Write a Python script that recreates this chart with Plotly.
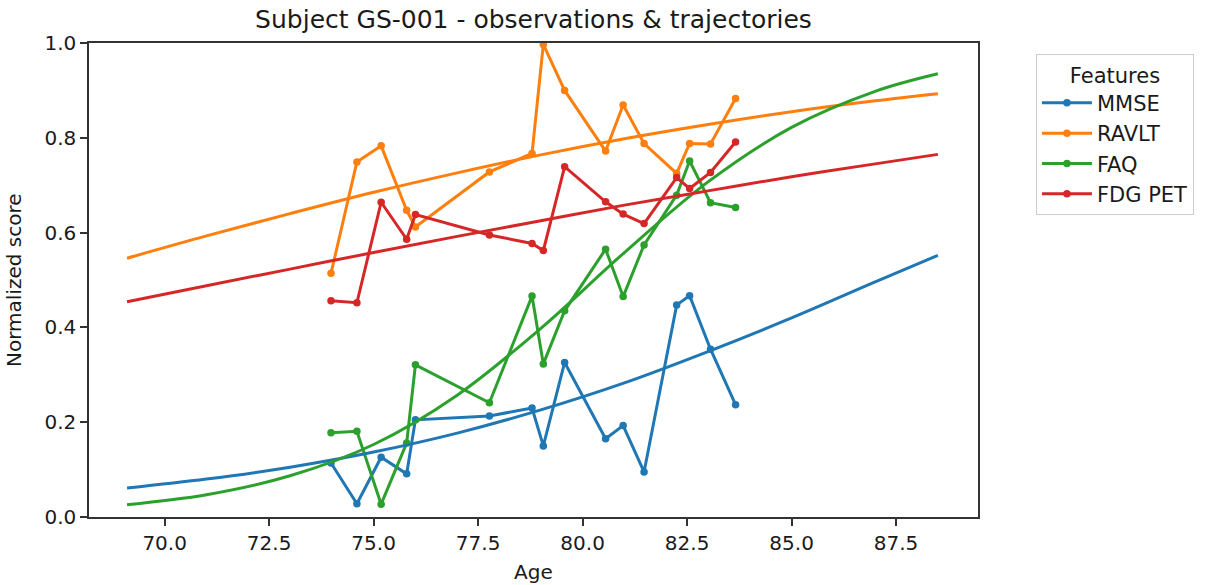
import plotly.graph_objects as go

# Observation ages (years)
ages = [73.98, 74.60, 75.18, 75.79, 76.00, 77.77, 78.79, 79.06, 79.57,
        80.55, 80.97, 81.47, 82.25, 82.56, 83.06, 83.66]

# Observed normalized scores
mmse_obs = [0.114, 0.028, 0.126, 0.091, 0.205, 0.213, 0.230, 0.150, 0.326,
            0.165, 0.193, 0.095, 0.447, 0.467, 0.354, 0.237]
ravlt_obs = [0.514, 0.749, 0.783, 0.647, 0.612, 0.728, 0.767, 0.997, 0.900,
             0.772, 0.869, 0.788, 0.725, 0.788, 0.787, 0.883]
faq_obs = [0.178, 0.181, 0.027, 0.156, 0.321, 0.241, 0.466, 0.323, 0.435,
           0.565, 0.465, 0.574, 0.679, 0.751, 0.663, 0.653]
fdg_obs = [0.456, 0.452, 0.664, 0.586, 0.638, 0.595, 0.577, 0.562, 0.739,
           0.665, 0.639, 0.619, 0.716, 0.693, 0.727, 0.791]

# Trajectory samples
traj_ages = [69.1, 71.0, 73.0, 75.0, 77.0, 79.0, 81.0, 83.0, 85.0, 87.0, 88.5]
mmse_traj = [0.061, 0.080, 0.105, 0.137, 0.177, 0.226, 0.283, 0.349, 0.420, 0.496, 0.552]
ravlt_traj = [0.546, 0.593, 0.640, 0.685, 0.726, 0.764, 0.798, 0.828, 0.855, 0.878, 0.893]
faq_traj = [0.026, 0.047, 0.087, 0.153, 0.257, 0.398, 0.558, 0.707, 0.822, 0.898, 0.935]
fdg_traj = [0.454, 0.488, 0.523, 0.558, 0.592, 0.625, 0.658, 0.688, 0.718, 0.745, 0.765]

features = ["MMSE", "RAVLT", "FAQ", "FDG PET"]
colors = ["#1f77b4", "#ff7f0e", "#2ca02c", "#d62728"]
obs = [mmse_obs, ravlt_obs, faq_obs, fdg_obs]
trajs = [mmse_traj, ravlt_traj, faq_traj, fdg_traj]

x_ticks = [70.0, 72.5, 75.0, 77.5, 80.0, 82.5, 85.0, 87.5]
y_ticks = [0.0, 0.2, 0.4, 0.6, 0.8, 1.0]

FONT = "DejaVu Sans"
TXT = "#1a1a1a"
fig = go.Figure()

for name, col, o in zip(features, colors, obs):
    fig.add_trace(go.Scatter(
        x=ages, y=o, mode="lines+markers", name=name,
        line=dict(color=col, width=3), marker=dict(color=col, size=7.5),
        showlegend=True))
for name, col, t in zip(features, colors, trajs):
    fig.add_trace(go.Scatter(
        x=traj_ages, y=t, mode="lines", name=name + " trajectory",
        line=dict(color=col, width=3, shape="spline", smoothing=1.0),
        showlegend=False))

fig.update_layout(
    width=1205, height=585,
    margin=dict(l=89, r=226, t=43, b=68),
    plot_bgcolor="white", paper_bgcolor="white",
    font=dict(family=FONT, size=20, color=TXT),
    title=dict(text="Subject GS-001 - observations & trajectories",
               x=0.5, xref="paper", xanchor="center",
               y=1 - 19 / 585, yref="container", yanchor="middle",
               font=dict(family=FONT, size=25, color=TXT)),
    xaxis=dict(range=[68.19, 89.46], tickvals=x_ticks,
               ticktext=[f"{v:.1f}" for v in x_ticks],
               showgrid=False, zeroline=False, showline=True, mirror=True,
               linecolor="#333333", linewidth=1.5,
               ticks="outside", ticklen=7, tickcolor="#333333", tickwidth=1.5,
               tickfont=dict(family=FONT, size=20, color=TXT)),
    yaxis=dict(range=[0, 1], tickvals=y_ticks,
               ticktext=[f"{v:.1f}" for v in y_ticks],
               showgrid=False, zeroline=False, showline=True, mirror=True,
               linecolor="#333333", linewidth=1.5,
               ticks="outside", ticklen=7, tickcolor="#333333", tickwidth=1.5,
               tickfont=dict(family=FONT, size=20, color=TXT)),
    legend=dict(x=1.064, y=0.976, xanchor="left", yanchor="top",
                bordercolor="#cccccc", borderwidth=1, bgcolor="white",
                itemwidth=50,
                font=dict(family=FONT, size=21, color=TXT),
                title=dict(text="Features", side="top center",
                           font=dict(family=FONT, size=21, color=TXT))),
    annotations=[
        dict(text="Age", xref="paper", yref="paper", x=0.5, y=0,
             xanchor="center", yanchor="middle", yshift=-55, showarrow=False,
             font=dict(family=FONT, size=20, color=TXT)),
        dict(text="Normalized score", xref="paper", yref="paper", x=0, y=0.5,
             xanchor="center", yanchor="middle", xshift=-75, textangle=-90,
             showarrow=False, font=dict(family=FONT, size=20, color=TXT)),
    ],
)

fig.write_html("out.html")
